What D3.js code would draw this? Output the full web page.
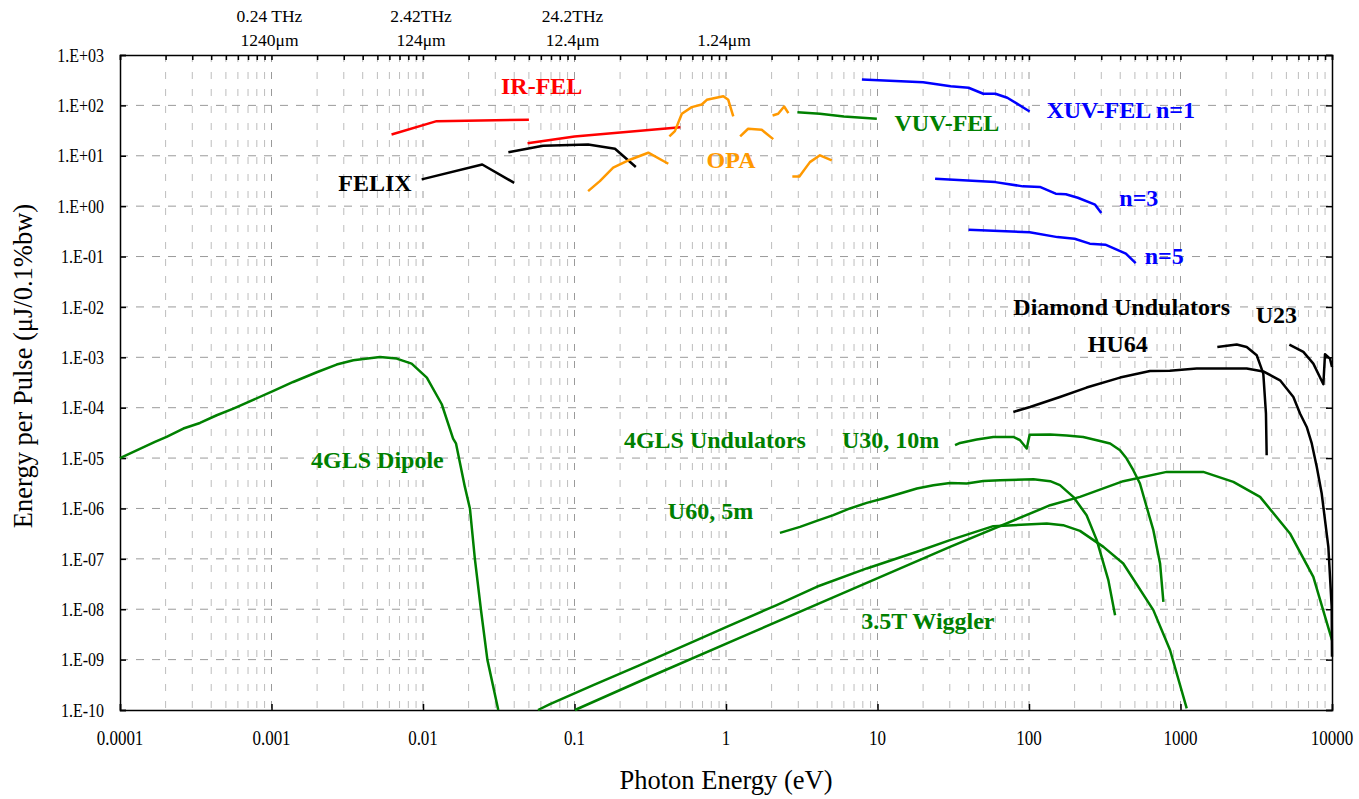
<!DOCTYPE html>
<html>
<head>
<meta charset="utf-8">
<script src="https://cdn.jsdelivr.net/npm/d3@7"></script>
<style>
  body { margin: 0; background: #fff; }
  text { font-family: "Liberation Serif", "Times New Roman", serif; }
</style>
</head>
<body>
<div id="chart"></div>
<script>
// photon energy (eV), energy per pulse (uJ/0.1%bw)
const irFel1 = [[0.0062,26.5],[0.0123,48.6],[0.05,52]];
const irFel2 = [[0.049,17.8],[0.1,24.2],[0.5,37]];
const felix1 = [[0.0098,3.4],[0.0246,6.7],[0.04,2.9]];
const felix2 = [[0.0366,11.8],[0.062,15.8],[0.123,16.8],[0.185,13.8],[0.254,6]];
const opa1 = [[0.123,1.99],[0.147,3.14],[0.18,5.79],[0.232,8.35],[0.307,11.5],[0.416,6.95]];
const opa2 = [[0.423,24.2],[0.46,30.8],[0.511,68.2],[0.594,92.2],[0.692,104],[0.747,129],[0.96,152],[1.035,129],[1.117,60.3]];
const opa3 = [[1.24,24.2],[1.40,34.4],[1.72,32.8],[2.05,21.4]];
const opa4 = [[2.03,63.1],[2.21,68.2],[2.42,95.2],[2.58,70.1]];
const opa5 = [[2.74,3.89],[3.05,3.89],[3.58,7.48],[4.17,10.2],[4.99,8.08]];
const vuvFel = [[2.96,73.4],[4.17,68.2],[6.0,60.3],[9.9,54.3]];
const xuvN1 = [[7.89,327],[20.0,289],[30.4,240],[39.9,224],[49.9,170],[60.0,170],[71.9,142],[101,75.7]];
const xuvN3 = [[24.0,3.51],[60.0,3.0],[91.0,2.47],[118,2.41],[150,1.77],[175,1.72],[210,1.47],[273,1.07],[300,0.73]];
const xuvN5 = [[39.9,0.341],[101,0.302],[154,0.243],[200,0.226],[252,0.180],[319,0.172],[436,0.114],[506,0.074]];
const hu64 = [[78.8,8.24e-5],[101.6,1.035e-4],[160,1.63e-4],[240,2.51e-4],[399,3.96e-4],[629,5.36e-4],[850,5.4e-4],
  [1279,5.97e-4],[2735,6.0e-4],[3520,5.24e-4],[4540,3.5e-4],[5560,1.63e-4],[6150,7.65e-5],[6810,4.15e-5],
  [7350,1.95e-5],[7930,6.7e-6],[8550,1.98e-6],[9460,1.73e-7],[9950,1.12e-8],[10000,1.14e-9]];
const u23a = [[1750,1.6e-3],[2350,1.79e-3],[2735,1.6e-3],[3185,1.1e-3],[3520,4.75e-4],[3665,7.65e-5],[3705,1.14e-5]];
const u23b = [[5230,1.79e-3],[6470,1.28e-3],[7530,7.5e-4],[8770,2.92e-4],[8990,1.15e-3],[9700,9.4e-4],[10000,6.4e-4]];
const dipole = [[1e-4,1e-5],[1.7e-4,2.09e-5],[2.03e-4,2.63e-5],[2.62e-4,3.86e-5],[3.37e-4,4.98e-5],[4.35e-4,7.08e-5],
  [5.6e-4,9.6e-5],[1.03e-3,2.15e-4],[1.39e-3,3.24e-4],[1.99e-3,5.05e-4],[2.69e-3,7.18e-4],[3.47e-3,8.73e-4],
  [5.2e-3,1.01e-3],[6.7e-3,9.43e-4],[8.41e-3,7.51e-4],[1.06e-2,3.96e-4],[1.33e-2,1.17e-4],[1.58e-2,2.44e-5],
  [1.65e-2,1.96e-5],[1.89e-2,2.68e-6],[2.04e-2,1e-6],[2.20e-2,1e-7],[2.41e-2,1e-8],[2.66e-2,1e-9],[3.14e-2,1e-10]];
const bend = [[0.0574,1e-10],[0.0689,1.31e-10],[0.133,3.13e-10],[0.27,7.8e-10],[0.641,2.44e-9],[1.01,4.48e-9],
  [2.16,1.21e-8],[3.97,2.79e-8],[8.49,6.45e-8],[18.2,1.38e-7],[30.1,2.35e-7],[58.1,4.45e-7],[131,5.04e-7],
  [168,4.66e-7],[217,3.59e-7],[310,1.73e-7],[419,8.1e-8],[662,9.6e-9],[853,1.55e-9],[1099,1.08e-10]];
const wiggler = [[0.1007,1e-10],[0.315,4.57e-10],[1.44,3.32e-9],[6.58,2.39e-8],[30.1,1.73e-7],[138,1.16e-6],
  [217,1.70e-6],[419,3.48e-6],[811,5.32e-6],[1413,5.32e-6],[2232,3.37e-6],[3350,1.70e-6],[5280,3.19e-7],
  [7530,4.4e-8],[10000,2.44e-9]];
const u60 = [[2.27,3.28e-7],[3.08,4.31e-7],[3.97,5.67e-7],[5.11,7.36e-7],[6.58,1.0e-6],[8.49,1.29e-6],[10.9,1.58e-6],
  [14.1,1.98e-6],[18.2,2.49e-6],[23.4,2.9e-6],[30.1,3.21e-6],[38.8,3.13e-6],[49.9,3.52e-6],[64.4,3.64e-6],
  [107,3.8e-6],[138,3.48e-6],[160,2.9e-6],[196,1.7e-6],[240,7.36e-7],[280,2.35e-7],[334,3.78e-8],[370,7.6e-9]];
const u30 = [[32.5,1.8e-5],[35.1,2.0e-5],[45.2,2.33e-5],[58.1,2.63e-5],[78.8,2.63e-5],[87.3,2.26e-5],[96.6,1.55e-5],
  [101,2.9e-5],[138,2.95e-5],[177,2.81e-5],[228,2.63e-5],[294,2.19e-5],[343,1.95e-5],[399,1.43e-5],[441,9.8e-6],
  [488,5.74e-6],[540,3.13e-6],[598,1.07e-6],[662,3.71e-7],[733,8.1e-8],[771,1.4e-8]];

const xTickLabels = ["0.0001","0.001","0.01","0.1","1","10","100","1000","10000"];
const yTickLabels = ["1.E-10","1.E-09","1.E-08","1.E-07","1.E-06","1.E-05","1.E-04","1.E-03","1.E-02","1.E-01","1.E+00","1.E+01","1.E+02","1.E+03"];
const topEnergies = [0.001, 0.01, 0.1, 1];
const topFreq = ["0.24 THz", "2.42THz", "24.2THz", ""];
const topWave = ["1240\u03bcm", "124\u03bcm", "12.4\u03bcm", "1.24\u03bcm"];

const width = 1359, height = 799;
const margin = {top: 55, right: 27, bottom: 89, left: 120};

const svg = d3.select("#chart").append("svg")
    .attr("width", width)
    .attr("height", height)
    .attr("viewBox", [0, 0, width, height]);

const x = d3.scaleLog().domain([1e-4, 1e4]).range([margin.left, width - margin.right]);
const y = d3.scaleLog().domain([1e-10, 1e3]).range([height - margin.bottom, margin.top]);

const decadesX = d3.range(-4, 5).map(e => Math.pow(10, e));
const decadesY = d3.range(-10, 4).map(e => Math.pow(10, e));
const minorX = [];
decadesX.slice(0, -1).forEach(d => { for (let k = 2; k < 10; k++) minorX.push(d * k); });

const grid = svg.append("g");
grid.selectAll(".vminor")
  .data(minorX)
  .join("line")
    .attr("x1", d => x(d)).attr("x2", d => x(d))
    .attr("y1", y(1e3)).attr("y2", y(1e-10))
    .attr("stroke", "#bdbdbd")
    .attr("stroke-dasharray", "7,10");
grid.selectAll(".vmajor")
  .data(decadesX.slice(1, -1))
  .join("line")
    .attr("x1", d => x(d)).attr("x2", d => x(d))
    .attr("y1", y(1e3)).attr("y2", y(1e-10))
    .attr("stroke", "#9a9a9a")
    .attr("stroke-dasharray", "7,10");
grid.selectAll(".hmajor")
  .data(decadesY.slice(1, -1))
  .join("line")
    .attr("x1", x(1e-4)).attr("x2", x(1e4))
    .attr("y1", d => y(d)).attr("y2", d => y(d))
    .attr("stroke", "#9a9a9a")
    .attr("stroke-dasharray", "8,8");

// axes (ticks inward)
svg.append("g")
    .attr("transform", `translate(0,${y(1e-10)})`)
    .call(d3.axisTop(x).tickValues(decadesX).tickSize(6).tickFormat(""))
    .call(g => g.selectAll("line,path").attr("stroke", "#000").attr("stroke-width", 1.5));
svg.append("g")
    .attr("transform", `translate(0,${y(1e3)})`)
    .call(d3.axisBottom(x).tickValues(decadesX.concat(minorX)).tickSize(5).tickFormat(""))
    .call(g => g.selectAll("line,path").attr("stroke", "#000").attr("stroke-width", 1.5));
svg.append("g")
    .attr("transform", `translate(${x(1e-4)},0)`)
    .call(d3.axisRight(y).tickValues(decadesY).tickSize(6).tickFormat(""))
    .call(g => g.selectAll("line,path").attr("stroke", "#000").attr("stroke-width", 1.5));
svg.append("g")
    .attr("transform", `translate(${x(1e4)},0)`)
    .call(d3.axisLeft(y).tickValues(decadesY).tickSize(6).tickFormat(""))
    .call(g => g.selectAll("line,path").attr("stroke", "#000").attr("stroke-width", 1.5));

// tick labels
svg.append("g").selectAll("text")
  .data(decadesX)
  .join("text")
    .attr("transform", d => `translate(${x(d)},${y(1e-10) + 35}) scale(1,1.28)`)
    .attr("text-anchor", "middle")
    .attr("font-size", 17)
    .text((d, i) => xTickLabels[i]);
svg.append("g").selectAll("text")
  .data(decadesY)
  .join("text")
    .attr("transform", d => `translate(${x(1e-4) - 16},${y(d)}) scale(1,1.2)`)
    .attr("dy", "0.35em")
    .attr("text-anchor", "end")
    .attr("font-size", 16)
    .text((d, i) => yTickLabels[i]);
const topAxisText = svg.append("g").attr("font-size", 17.5).attr("text-anchor", "middle");
topAxisText.selectAll(".f").data(topEnergies).join("text")
    .attr("x", d => x(d) - 2).attr("y", 22)
    .text((d, i) => topFreq[i]);
topAxisText.selectAll(".w").data(topEnergies).join("text")
    .attr("x", d => x(d) - 2).attr("y", 46)
    .text((d, i) => topWave[i]);

// axis titles
svg.append("text")
    .attr("x", (x(1e-4) + x(1e4)) / 2).attr("y", 789)
    .attr("text-anchor", "middle")
    .attr("font-size", 26.5)
    .text("Photon Energy (eV)");
svg.append("text")
    .attr("transform", "translate(32,366) rotate(-90)")
    .attr("text-anchor", "middle")
    .attr("font-size", 26.5)
    .text("Energy per Pulse (\u03bcJ/0.1%bw)");

// curves
const red = "#ff0000", black = "#000000", orange = "#ff9900", green = "#008000", blue = "#0000ff";
const series = [
  {data: irFel1, color: red}, {data: irFel2, color: red},
  {data: felix1, color: black}, {data: felix2, color: black},
  {data: opa1, color: orange}, {data: opa2, color: orange}, {data: opa3, color: orange},
  {data: opa4, color: orange}, {data: opa5, color: orange},
  {data: vuvFel, color: green},
  {data: xuvN1, color: blue}, {data: xuvN3, color: blue}, {data: xuvN5, color: blue},
  {data: dipole, color: green}, {data: bend, color: green}, {data: wiggler, color: green},
  {data: u60, color: green}, {data: u30, color: green},
  {data: hu64, color: black}, {data: u23a, color: black}, {data: u23b, color: black}
];

const line = d3.line().x(d => x(d[0])).y(d => y(d[1]));

svg.append("g")
  .selectAll("path")
  .data(series)
  .join("path")
    .attr("d", d => line(d.data))
    .attr("fill", "none")
    .attr("stroke", d => d.color)
    .attr("stroke-width", 2.5)
    .attr("stroke-linejoin", "round");

// labels, anchored in data units (centre, baseline)
const labels = [
  {text: "IR-FEL", e: 0.0607, v: 170, color: red},
  {text: "FELIX", e: 0.00482, v: 1.99, color: black},
  {text: "OPA", e: 1.08, v: 5.8, color: orange},
  {text: "VUV-FEL", e: 28.7, v: 30.8, color: green},
  {text: "XUV-FEL n=1", e: 403, v: 55.8, color: blue},
  {text: "n=3", e: 531, v: 1.0, color: blue},
  {text: "n=5", e: 781, v: 0.070, color: blue},
  {text: "Diamond Undulators", e: 409, v: 6.8e-3, color: black},
  {text: "U23", e: 4290, v: 4.8e-3, color: black},
  {text: "HU64", e: 386, v: 1.28e-3, color: black},
  {text: "4GLS Dipole", e: 5.0e-3, v: 6.5e-6, color: green},
  {text: "4GLS Undulators", e: 0.845, v: 1.59e-5, color: green},
  {text: "U30, 10m", e: 12.2, v: 1.59e-5, color: green},
  {text: "U60, 5m", e: 0.79, v: 6.1e-7, color: green},
  {text: "3.5T Wiggler", e: 21.5, v: 4.0e-9, color: green}
];

svg.append("g")
  .selectAll("text")
  .data(labels)
  .join("text")
    .attr("x", d => x(d.e))
    .attr("y", d => y(d.v))
    .attr("text-anchor", "middle")
    .attr("font-size", 24)
    .attr("font-weight", "bold")
    .attr("fill", d => d.color)
    .text(d => d.text);
</script>
</body>
</html>
